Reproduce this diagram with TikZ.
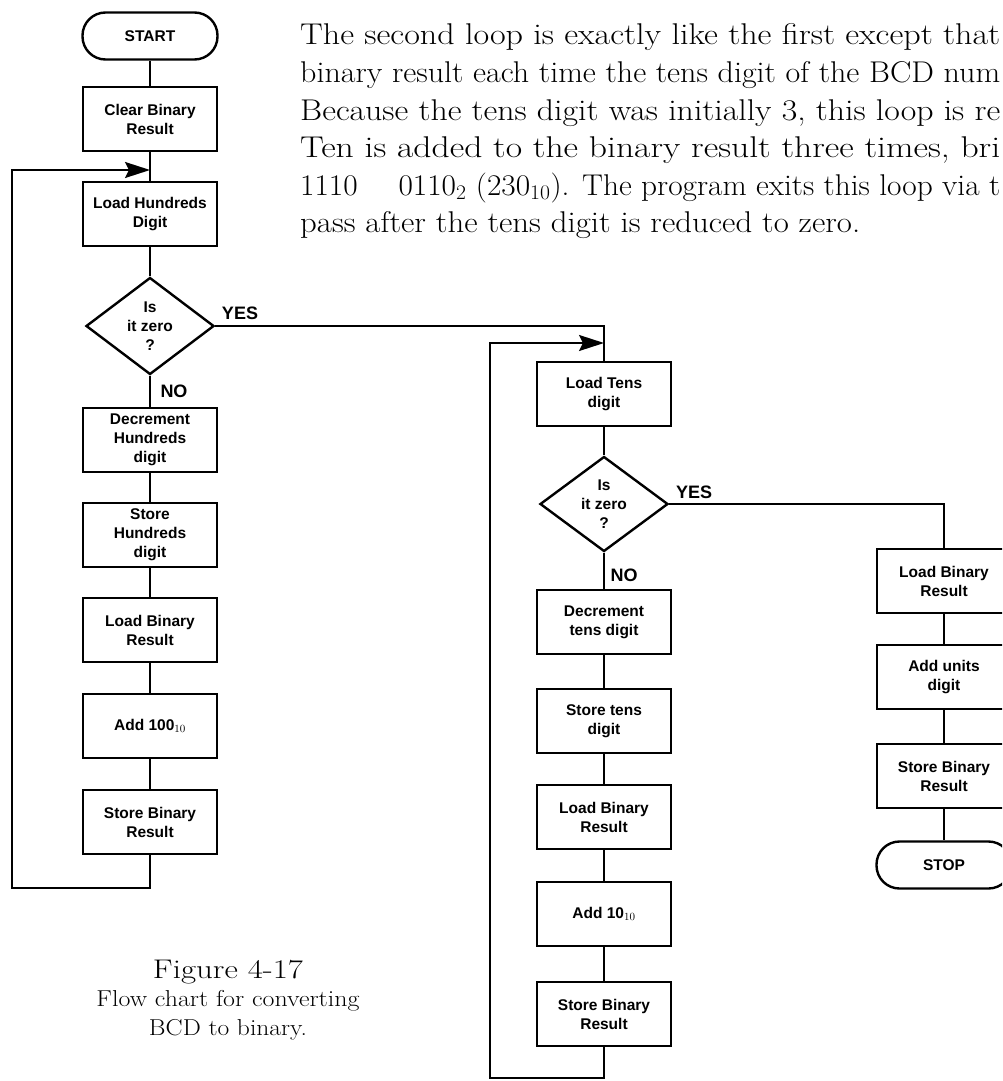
\documentclass[tikz,border=0pt]{standalone}
\usepackage{fontspec}
\usepackage{graphicx}
\newfontfamily\boxfont{Liberation Sans}
\usetikzlibrary{shapes.geometric,arrows.meta}

% one line of text, widened or narrowed to a fixed width at its natural height
\newcommand{\fitline}[2]{\resizebox{#1}{\height}{#2}}

\begin{document}
\begin{tikzpicture}[x=1pt,y=-1pt,
  boxtext/.style={font=\boxfont\bfseries\fontsize{15.5}{19}\selectfont},
  proc/.style={draw, line width=2.6pt, minimum width=134pt, minimum height=64pt,
    inner sep=0pt, align=center, boxtext},
  term/.style={draw, line width=2.4pt, rounded corners=23pt, minimum width=135pt,
    minimum height=47pt, inner sep=0pt, boxtext},
  decide/.style={draw, diamond, line width=2.4pt, minimum width=128pt,
    minimum height=97pt, inner sep=0pt, align=center, boxtext},
  flow/.style={line width=2.2pt},
  back/.style={line width=2.2pt, -{Stealth[length=25pt,width=16pt,inset=4pt]}},
  tag/.style={font=\boxfont\bfseries\fontsize{18}{18}\selectfont, inner sep=0pt},
  para/.style={anchor=base west, inner sep=0pt, font=\fontsize{30}{37}\selectfont},
  capt/.style={anchor=base, inner sep=0pt, font=\fontsize{23}{29}\selectfont},
]
\useasboundingbox (0,0) rectangle (1002,1081);
\clip (0,0) rectangle (1002,1081);
\fill[white] (0,0) rectangle (1002,1081);

% ---- running text ----
\node[para] (p1) at (300,45)    {\fitline{700pt}{The second loop is exactly like the first except that}};
\node[para] (p2) at (300,82.5)  {\fitline{700pt}{binary result each time the tens digit of the BCD num}};
\node[para] (p3) at (300,120)   {\fitline{700pt}{Because the tens digit was initially 3, this loop is re}};
\node[para] (p4) at (300,157.5) {\fitline{700pt}{Ten is added to the binary result three times, bri}};
\node[para] (p5) at (300,195)   {\fitline{700pt}{1110\quad\ 0110$_2$ (230$_{10}$). The program exits this loop via t}};
\node[para] (p6) at (300,232.5) {\fitline{560pt}{pass after the tens digit is reduced to zero.}};

% ---- hundreds loop ----
\node[term]   (start) at (150,36)  {START};
\node[proc]   (clr)   at (150,119) {Clear Binary\\Result};
\coordinate   (j1)    at (150,170);
\node[proc]   (ldh)   at (150,214) {Load Hundreds\\Digit};
\node[decide] (z1)    at (150,326) {Is\\it zero\\?};
\node[proc]   (dech)  at (150,440) {Decrement\\Hundreds\\digit};
\node[proc]   (sth)   at (150,535) {Store\\Hundreds\\digit};
\node[proc]   (ldb1)  at (150,630) {Load Binary\\Result};
\node[proc]   (add1)  at (150,726) {Add 100$_{10}$};
\node[proc]   (stb1)  at (150,822) {Store Binary\\Result};
\coordinate   (lp1)   at (12,888);

% ---- tens loop ----
\coordinate   (j2)    at (604,343);
\node[proc]   (ldt)   at (604,394)  {Load Tens\\digit};
\node[decide, minimum height=95pt] (z2) at (604,504) {Is\\it zero\\?};
\node[proc]   (dect)  at (604,622)  {Decrement\\tens digit};
\node[proc]   (stt)   at (604,721)  {Store tens\\digit};
\node[proc]   (ldb2)  at (604,817)  {Load Binary\\Result};
\node[proc]   (add2)  at (604,914)  {Add 10$_{10}$};
\node[proc]   (stb2)  at (604,1014) {Store Binary\\Result};
\coordinate   (lp2)   at (490,1078);

% ---- units ----
\node[proc]   (ldb3)  at (944,581) {Load Binary\\Result};
\node[proc]   (addu)  at (944,677) {Add units\\digit};
\node[proc]   (stb3)  at (944,776) {Store Binary\\Result};
\node[term]   (stop)  at (944,865) {STOP};

% ---- connectors ----
\draw[flow] (start) -- (clr);
\draw[flow] (clr) -- (ldh);
\draw[flow] (ldh) -- (z1);
\draw[flow] (z1) -- (dech);
\draw[flow] (dech) -- (sth);
\draw[flow] (sth) -- (ldb1);
\draw[flow] (ldb1) -- (add1);
\draw[flow] (add1) -- (stb1);
\draw[back] (stb1.south) |- (lp1) |- (j1);
\draw[flow] (z1.east) -| (ldt.north);

\draw[flow] (ldt) -- (z2);
\draw[flow] (z2) -- (dect);
\draw[flow] (dect) -- (stt);
\draw[flow] (stt) -- (ldb2);
\draw[flow] (ldb2) -- (add2);
\draw[flow] (add2) -- (stb2);
\draw[back] (stb2.south) |- (lp2) |- (j2);
\draw[flow] (z2.east) -| (ldb3.north);

\draw[flow] (ldb3) -- (addu);
\draw[flow] (addu) -- (stb3);
\draw[flow] (stb3) -- (stop);

% ---- branch labels ----
\node[tag] (yes1) at (240,313) {YES};
\node[tag] (no1)  at (174,391) {NO};
\node[tag] (yes2) at (694,492) {YES};
\node[tag] (no2)  at (624,575) {NO};

% ---- caption ----
\node[capt, font=\fontsize{27}{30}\selectfont] (fig) at (228,978) {\fitline{150pt}{Figure 4-17}};
\node[capt] (cap1) at (228,1006) {\fitline{263pt}{Flow chart for converting}};
\node[capt] (cap2) at (228,1035) {\fitline{158pt}{BCD to binary.}};
\end{tikzpicture}
\end{document}
